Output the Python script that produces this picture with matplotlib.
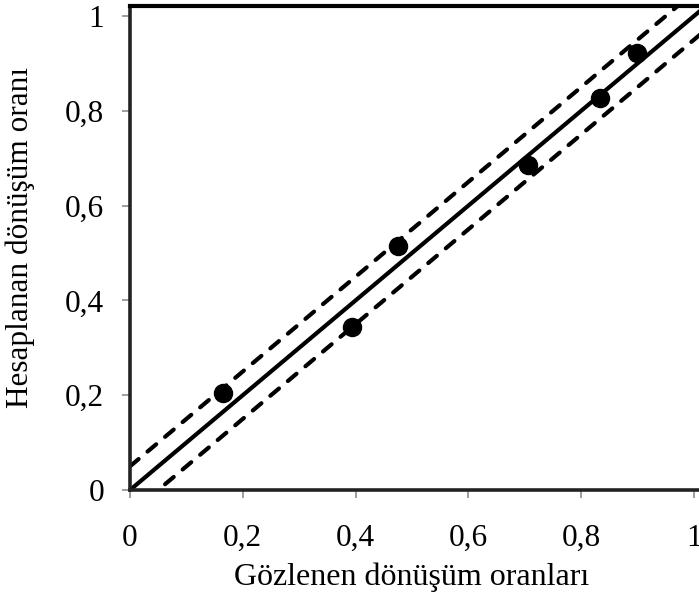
import matplotlib
matplotlib.use("Agg")
import matplotlib.pyplot as plt
import numpy as np

plt.rcParams['font.family'] = ['Liberation Serif', 'DejaVu Serif']

# Observed vs. calculated conversion ratios
observed = [0.165, 0.394, 0.475, 0.706, 0.833, 0.899]
calculated = [0.205, 0.344, 0.515, 0.686, 0.827, 0.922]

# Reference lines: perfect fit and +/- 0.05 band
line_x = [0.0, 1.1]
band = 0.05

tick_values = [0, 0.2, 0.4, 0.6, 0.8, 1.0]
tick_labels = ["0", "0,2", "0,4", "0,6", "0,8", "1"]

W, H = 699, 597
fig = plt.figure(figsize=(W / 100, H / 100), dpi=100)

x0_px, x1_px = 130, 694      # pixel positions of x = 0 and x = 1
y0_px, y1_px = 490, 16       # pixel positions of y = 0 and y = 1
top_px = 6
right_px = 730

ax = fig.add_axes([x0_px / W, (H - y0_px) / H,
                   (right_px - x0_px) / W, (y0_px - top_px) / H])
ax.set_xlim(0, (right_px - x0_px) / (x1_px - x0_px))
ax.set_ylim(0, (y0_px - top_px) / (y0_px - y1_px))

lx = np.array(line_x)
ax.plot(lx, lx, color='black', lw=3.0, solid_capstyle='butt', zorder=2)
ax.plot(lx, lx + band, color='black', lw=3.0,
        linestyle=(0, (2.7, 2.8)), dash_capstyle='round', zorder=2)
ax.plot(lx, lx - band, color='black', lw=3.0,
        linestyle=(0, (2.7, 2.8)), dash_capstyle='round', zorder=2)

ax.plot(observed, calculated, 'o', color='black', markersize=13, zorder=3)

for side in ['left', 'bottom']:
    ax.spines[side].set_linewidth(2.6)
    ax.spines[side].set_color('#222222')
ax.spines['top'].set_linewidth(3.0)
ax.spines['top'].set_color('black')
ax.spines['right'].set_visible(False)

ax.set_xticks(tick_values)
ax.set_xticklabels(tick_labels)
ax.set_yticks(tick_values)
ax.set_yticklabels(tick_labels)
ax.tick_params(axis='both', direction='out', length=5.5, width=1.2,
               color='#8c8c8c', labelsize=22.5, labelcolor='black')
ax.tick_params(axis='y', pad=13)
ax.tick_params(axis='x', pad=19)

fig.text((x0_px + x1_px) / 2 / W, 1 - 577 / H, "Gözlenen dönüşüm oranları",
         ha='center', va='center', fontsize=23)
fig.text(20 / W, 1 - 237 / H, "Hesaplanan dönüşüm oranı",
         ha='center', va='center', rotation=90, fontsize=22.5)

fig.savefig("out.png", dpi=100)
